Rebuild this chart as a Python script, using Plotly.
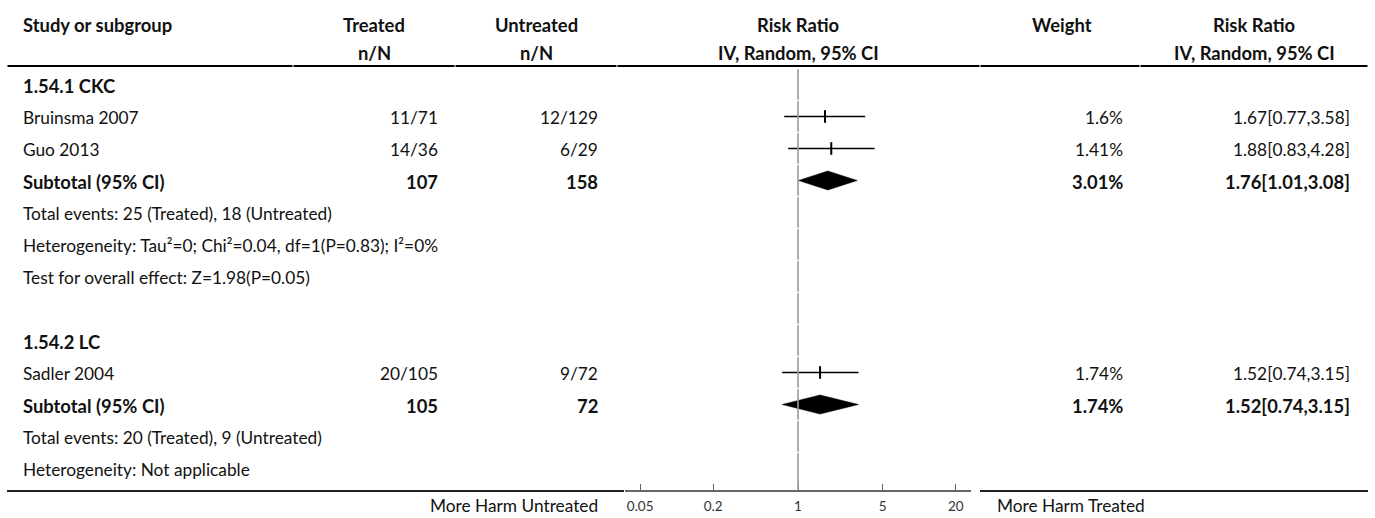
import numpy as np
import plotly.graph_objects as go

W, H = 1375, 518

# ---------------- data ----------------
header_top = ["Study or subgroup", "Treated", "Untreated", "Risk Ratio", "Weight", "Risk Ratio"]
header_bot = ["", "n/N", "n/N", "IV, Random, 95% CI", "", "IV, Random, 95% CI"]

group_names = ["1.54.1 CKC", "1.54.2 LC"]
study_names = ["Bruinsma 2007", "Guo 2013", "Sadler 2004"]
study_group = [0, 0, 1]
treated_events = [11, 14, 20]
treated_total = [71, 36, 105]
untreated_events = [12, 6, 9]
untreated_total = [129, 29, 72]
study_weight = [1.6, 1.41, 1.74]
study_rr = [1.67, 1.88, 1.52]
study_lo = [0.77, 0.83, 0.74]
study_hi = [3.58, 4.28, 3.15]

sub_treated_total = [107, 105]
sub_untreated_total = [158, 72]
sub_weight = [3.01, 1.74]
sub_rr = [1.76, 1.52]
sub_lo = [1.01, 0.74]
sub_hi = [3.08, 3.15]
sub_notes = [
    ["Total events: 25 (Treated), 18 (Untreated)",
     "Heterogeneity: Tau\u00b2=0; Chi\u00b2=0.04, df=1(P=0.83); I\u00b2=0%",
     "Test for overall effect: Z=1.98(P=0.05)"],
    ["Total events: 20 (Treated), 9 (Untreated)",
     "Heterogeneity: Not applicable"],
]

tick_vals = [0.05, 0.2, 1, 5, 20]
tick_text = ["0.05", "0.2", "1", "5", "20"]
axis_left_label = "More Harm Untreated"
axis_right_label = "More Harm Treated"

# ---------------- layout constants ----------------
FONT = "Lato"
FS = 17.3
FSB = 18.4
TXT = "#111111"
ROW0 = 84.5
ROWH = 32
col_bounds = [7, 293, 455, 617, 980, 1140, 1368]
x_study = 21
x_hdr = [None, 374, 536, 798, 1062, 1254]
x_right = [None, 440, 600, None, 1125, 1352]
axis_px = (625, 971)
px_per_decade = 121.3


def px(x):
    return x / W


annotations = []


def txt(x, y, s, anchor, bold=False, size=None, color=TXT, yanchor="middle"):
    if size is None:
        size = FSB if bold else FS
    annotations.append(dict(
        x=px(x), xref="paper", y=y, yref="y",
        text=f"<b>{s}</b>" if bold else s,
        xanchor=anchor, yanchor=yanchor, showarrow=False,
        font=dict(family=FONT, size=size, color=color),
    ))


# headers
txt(x_study, 25, header_top[0], "left", bold=True)
for c in range(1, 6):
    txt(x_hdr[c], 25, header_top[c], "center", bold=True)
    if header_bot[c]:
        txt(x_hdr[c], 53, header_bot[c], "center", bold=True)

# rows
fig = go.Figure()
row = 0
study_rows, sub_rows = [], []
for g, gname in enumerate(group_names):
    y = ROW0 + ROWH * row
    txt(x_study, y + 1, gname, "left", bold=True)
    row += 1
    for i, name in enumerate(study_names):
        if study_group[i] != g:
            continue
        y = ROW0 + ROWH * row
        txt(x_study, y + 1, name, "left")
        txt(x_right[1], y + 1, f"{treated_events[i]}/{treated_total[i]}", "right")
        txt(x_right[2], y + 1, f"{untreated_events[i]}/{untreated_total[i]}", "right")
        txt(x_right[4], y + 1, f"{study_weight[i]:g}%", "right")
        txt(x_right[5], y + 1,
            f"{study_rr[i]:.2f}[{study_lo[i]:.2f},{study_hi[i]:.2f}]", "right")
        study_rows.append((i, y))
        row += 1
    y = ROW0 + ROWH * row
    txt(x_study, y + 1, "Subtotal (95% CI)", "left", bold=True)
    txt(x_right[1], y + 1, f"{sub_treated_total[g]}", "right", bold=True)
    txt(x_right[2], y + 1, f"{sub_untreated_total[g]}", "right", bold=True)
    txt(x_right[4], y + 1, f"{sub_weight[g]:g}%", "right", bold=True)
    txt(x_right[5], y + 1, f"{sub_rr[g]:.2f}[{sub_lo[g]:.2f},{sub_hi[g]:.2f}]",
        "right", bold=True)
    sub_rows.append((g, y))
    row += 1
    for note in sub_notes[g]:
        y = ROW0 + ROWH * row
        txt(x_study, y + 1, note, "left")
        row += 1
    if g < len(group_names) - 1:
        row += 1  # blank spacer row
n_rows = row

# study CI lines + point markers
for i, y in study_rows:
    fig.add_trace(go.Scatter(
        x=[study_lo[i], study_hi[i]], y=[y, y], mode="lines",
        line=dict(color="black", width=1.3), hoverinfo="skip", showlegend=False))
    fig.add_trace(go.Scatter(
        x=[study_rr[i]], y=[y], mode="markers",
        marker=dict(symbol="line-ns-open", size=9, color="black",
                    line=dict(color="black", width=2)),
        hoverinfo="skip", showlegend=False))

# subtotal diamonds
for g, y in sub_rows:
    fig.add_trace(go.Scatter(
        x=[sub_lo[g], sub_rr[g], sub_hi[g], sub_rr[g], sub_lo[g]],
        y=[y, y - 9.5, y, y + 9.5, y],
        mode="lines", fill="toself", fillcolor="black",
        line=dict(color="black", width=0.5), hoverinfo="skip", showlegend=False))

shapes = []
# header rule, split by columns
for a, b in zip(col_bounds[:-1], col_bounds[1:]):
    shapes.append(dict(type="line", xref="paper", yref="y",
                       x0=px(a + 0.5), x1=px(b - 0.5), y0=66, y1=66,
                       line=dict(color="black", width=2)))
# bottom rule (outside the forest column)
shapes.append(dict(type="line", xref="paper", yref="y", x0=px(7), x1=px(624),
                   y0=491, y1=491, line=dict(color="#222222", width=2)))
shapes.append(dict(type="line", xref="paper", yref="y", x0=px(980), x1=px(1368),
                   y0=491, y1=491, line=dict(color="#222222", width=2)))
# line of no effect, split per row
for r in range(n_rows):
    top = ROW0 - ROWH / 2 + ROWH * r
    bot = top + ROWH
    if r == n_rows - 1:
        bot = 490
    shapes.append(dict(type="line", xref="x", yref="y", x0=1, x1=1,
                       y0=top + 0.8, y1=bot - 0.8,
                       line=dict(color="#9a9a9a", width=1.6)))

# axis side labels
txt(600, 517.5, axis_left_label, "right", yanchor="bottom")
txt(995, 517.5, axis_right_label, "left", yanchor="bottom")

half = (axis_px[1] - axis_px[0]) / 2 / px_per_decade
fig.update_layout(
    width=W, height=H,
    margin=dict(l=0, r=0, t=0, b=0),
    paper_bgcolor="white", plot_bgcolor="white",
    annotations=annotations, shapes=shapes,
    xaxis=dict(type="log", domain=[px(axis_px[0]), px(axis_px[1])],
               range=[-half, half], anchor="free", position=(H - 491) / H,
               showline=True, linecolor="#666666", linewidth=2,
               ticks="inside", ticklen=6, tickwidth=1, tickcolor="#666666",
               tickvals=tick_vals, ticktext=tick_text, ticklabelstandoff=3,
               tickfont=dict(family=FONT, size=13.5, color="#333333"),
               showgrid=False, zeroline=False, fixedrange=True),
    yaxis=dict(range=[H, 0], domain=[0, 1], visible=False, fixedrange=True),
    showlegend=False,
)

fig.write_html("out.html", config={"displayModeBar": False},
               post_script="document.body.style.margin='0';")
